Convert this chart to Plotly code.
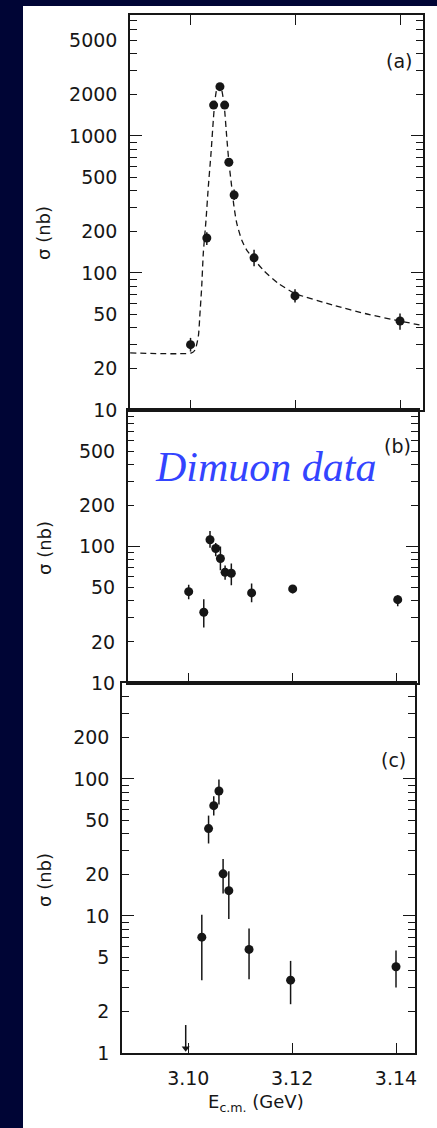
import math
import plotly.graph_objects as go

W, H = 437, 1128

# ---------------- data ----------------
# (a) total hadronic cross section near the J/psi
E_a = [3.1001, 3.1032, 3.1045, 3.1057, 3.1066, 3.1074, 3.1084, 3.1122, 3.1200, 3.1400]
sig_a = [30, 180, 1680, 2290, 1680, 643, 371, 129, 68, 44.6]
sig_a_up = [3.6, 18, 60, 80, 60, 25, 35, 19, 8, 6]
sig_a_dn = [3.3, 20, 60, 80, 60, 25, 30, 17, 7, 6]

# dashed fit curve
E_fit = [3.0886, 3.1003, 3.10095, 3.10158, 3.1019, 3.10223, 3.10253, 3.10305, 3.10349,
         3.1040, 3.10444, 3.10476, 3.1052, 3.10558, 3.10604, 3.10653, 3.10699, 3.10743,
         3.10794, 3.10838, 3.1089, 3.10985, 3.1108, 3.11219, 3.11396, 3.11682, 3.1200,
         3.12724, 3.13371, 3.1400, 3.1442]
sig_fit = [26.1, 26.1, 27.4, 34.3, 50.8, 79.4, 139, 244, 427, 748, 1309, 1833, 2291, 2357,
           2166, 1637, 988, 631, 427, 305, 231, 174, 147, 126, 105, 84, 71, 58.3, 50.2,
           44.6, 41.4]

# (b) dimuon data
E_b = [3.1000, 3.1029, 3.1041, 3.1052, 3.1061, 3.1070, 3.1082, 3.1121, 3.1200, 3.1402]
sig_b = [46.7, 33, 112, 96.7, 81.6, 64.7, 63.7, 45.7, 48.9, 40.8]
sig_b_up = [5.8, 8, 18, 9.3, 18.4, 7.8, 11.3, 7.8, 3.1, 3.2]
sig_b_dn = [5.7, 7.5, 14, 11.7, 14.6, 7.7, 11.7, 6.7, 3.4, 4.3]

# (c)
E_c = [3.1026, 3.1039, 3.1049, 3.1059, 3.1067, 3.1078, 3.1117, 3.1197, 3.1400]
sig_c = [7.0, 43.4, 63.8, 81.7, 20.3, 15.3, 5.7, 3.4, 4.26]
sig_c_up = [3.2, 10.6, 11, 17.3, 5.7, 5.9, 2.4, 1.3, 1.34]
sig_c_dn = [3.6, 9.6, 9.8, 16.7, 5.7, 5.8, 2.25, 1.13, 1.26]
E_ul = 3.0995      # upper limit point
sig_ul = 1.6

x_ticks = [3.10, 3.12, 3.14]
x_ticktext = ["3.10", "3.12", "3.14"]

lab_a = [10, 20, 50, 100, 200, 500, 1000, 2000, 5000]
min_a = [30, 40, 60, 70, 80, 90, 300, 400, 600, 700, 800, 900, 3000, 4000, 6000, 7000]
dec_a = [10, 100, 1000]
lab_b = [10, 20, 50, 100, 200, 500]
min_b = [30, 40, 60, 70, 80, 90, 300, 400, 600, 700, 800, 900]
dec_b = [10, 100, 1000]
lab_c = [1, 2, 5, 10, 20, 50, 100, 200]
min_c = [3, 4, 6, 7, 8, 9, 30, 40, 60, 70, 80, 90, 300, 400]
dec_c = [1, 10, 100]

# ---------------- layout helpers ----------------
def px(x):
    return x / W

def py(y):
    return 1 - y / H

NAVY = "#000535"
INK = "#161616"
FONT = "DejaVu Sans"
TICK_SIZE = 19

panels = [
    dict(left=130, right=423, top=15, bottom=410, xr=[3.08857, 3.14438], yr=[1, 3.883],
         lab=lab_a, mn=min_a, dec=dec_a),
    dict(left=127.7, right=418, top=410, bottom=683, xr=[3.08827, 3.14410], yr=[1, 3],
         lab=lab_b, mn=min_b, dec=dec_b),
    dict(left=122, right=415, top=683, bottom=1053, xr=[3.08723, 3.14366], yr=[0, 2.70],
         lab=lab_c, mn=min_c, dec=dec_c),
]

fig = go.Figure()

err_style = dict(type="data", symmetric=False, thickness=1.5, width=0, color=INK)
mk = dict(color=INK, size=9, symbol="circle")

fig.add_trace(go.Scatter(x=E_fit, y=sig_fit, mode="lines", xaxis="x", yaxis="y",
                         line=dict(color=INK, width=1.3, dash="6px,4px", shape="spline",
                                   smoothing=0.6),
                         hoverinfo="skip"))
fig.add_trace(go.Scatter(x=E_a, y=sig_a, mode="markers", xaxis="x", yaxis="y", marker=mk,
                         error_y=dict(array=sig_a_up, arrayminus=sig_a_dn, **err_style)))
fig.add_trace(go.Scatter(x=E_b, y=sig_b, mode="markers", xaxis="x2", yaxis="y2", marker=mk,
                         error_y=dict(array=sig_b_up, arrayminus=sig_b_dn, **err_style)))
fig.add_trace(go.Scatter(x=E_c, y=sig_c, mode="markers", xaxis="x3", yaxis="y3", marker=mk,
                         error_y=dict(array=sig_c_up, arrayminus=sig_c_dn, **err_style)))

# upper limit in panel (c): a stem from the limit down to the axis floor with an arrowhead
floor_c = 10 ** (panels[2]["yr"][0] + 0.035)
fig.add_trace(go.Scatter(x=[E_ul, E_ul], y=[sig_ul, floor_c], mode="lines", xaxis="x3",
                         yaxis="y3", line=dict(color=INK, width=1.5), hoverinfo="skip"))
fig.add_trace(go.Scatter(x=[E_ul], y=[floor_c], mode="markers", xaxis="x3", yaxis="y3",
                         marker=dict(symbol="triangle-down", size=7, color=INK),
                         hoverinfo="skip"))

# empty traces that register the overlay axes carrying the long decade ticks
for xa, ya in [("x", "y4"), ("x2", "y5"), ("x3", "y6")]:
    fig.add_trace(go.Scatter(x=[None], y=[None], xaxis=xa, yaxis=ya, mode="markers",
                             hoverinfo="skip"))

layout = dict(
    width=W, height=H, margin=dict(l=0, r=0, t=0, b=0, pad=0, autoexpand=False),
    paper_bgcolor=NAVY, plot_bgcolor="rgba(0,0,0,0)", showlegend=False,
    font=dict(family=FONT, color=INK),
)

for i, p in enumerate(panels):
    n = "" if i == 0 else str(i + 1)
    ov = str(i + 4)
    xdom = [px(p["left"]), px(p["right"])]
    ydom = [py(p["bottom"]), py(p["top"])]
    layout["xaxis" + n] = dict(
        domain=xdom, range=p["xr"], anchor="y" + n, showgrid=False, zeroline=False,
        showline=True, linecolor=INK, linewidth=1.5, automargin=False,
        mirror="ticks" if i == 0 else True,
        tickmode="array", tickvals=x_ticks, ticktext=x_ticktext,
        ticks="inside", ticklen=10, tickwidth=1.3, tickcolor=INK,
        showticklabels=(i == 2), tickfont=dict(family=FONT, size=TICK_SIZE, color=INK),
        ticklabelstandoff=7,
    )
    layout["yaxis" + n] = dict(
        domain=ydom, type="log", range=p["yr"], anchor="x" + n, showgrid=False,
        zeroline=False, showline=True, linecolor=INK, linewidth=1.5, mirror="ticks",
        automargin=False,
        tickmode="array", tickvals=p["lab"], ticktext=[str(v) for v in p["lab"]],
        ticks="inside", ticklen=7, tickwidth=1.2, tickcolor=INK,
        tickfont=dict(family=FONT, size=TICK_SIZE, color=INK), ticklabelstandoff=7,
        minor=dict(tickmode="array", tickvals=p["mn"], ticks="inside", ticklen=7,
                   tickwidth=1.2, tickcolor=INK, showgrid=False),
    )
    layout["yaxis" + ov] = dict(
        type="log", range=p["yr"], overlaying="y" + n, anchor="x" + n, showgrid=False,
        zeroline=False, showline=False, mirror="ticks", tickmode="array",
        tickvals=p["dec"], showticklabels=False, ticks="inside", ticklen=12,
        tickwidth=1.2, tickcolor=INK, automargin=False,
    )

fig.update_layout(**layout)

fig.add_shape(type="rect", xref="paper", yref="paper", x0=px(23), x1=1, y0=0, y1=py(6),
              fillcolor="white", line=dict(width=0), layer="below")

ann = []
for yc in [233, 548, 880]:
    ann.append(dict(text="σ (nb)", x=px(44), y=py(yc), xref="paper", yref="paper",
                    xanchor="center", yanchor="middle",
                    textangle=-90, showarrow=False, font=dict(family=FONT, size=18, color=INK)))
for t, xx, yy in [("(a)", 399, 61), ("(b)", 397, 446), ("(c)", 393, 760)]:
    ann.append(dict(text=t, x=px(xx), y=py(yy), xref="paper", yref="paper",
                    xanchor="center", yanchor="middle",
                    showarrow=False, font=dict(family=FONT, size=19, color=INK)))
ann.append(dict(text="E<sub>c.m.</sub> (GeV)", x=px(256), y=py(1103), xref="paper",
                yref="paper", xanchor="center", yanchor="middle", showarrow=False,
                font=dict(family=FONT, size=18, color=INK)))
ann.append(dict(text="<i>Dimuon data</i>", x=px(266), y=py(467), xref="paper", yref="paper",
                xanchor="center", yanchor="middle", showarrow=False,
                font=dict(family="Liberation Serif", size=42, color="#3344ff")))
fig.update_layout(annotations=ann)

fig.write_html("out.html")
